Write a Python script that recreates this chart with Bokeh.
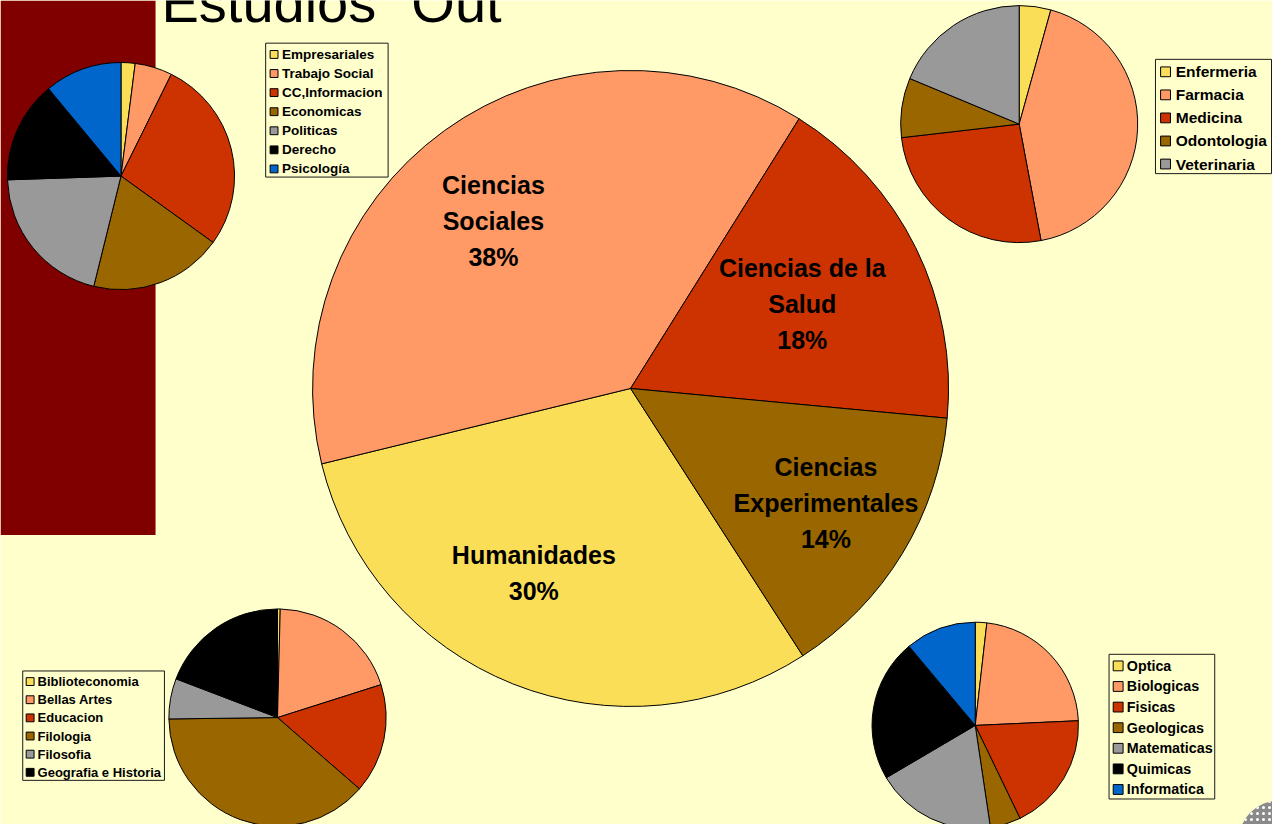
import math
from bokeh.plotting import figure
from bokeh.models import Range1d, ColumnDataSource
from bokeh.embed import file_html
from bokeh.resources import INLINE
from bokeh.core.properties import value

# ---------------- data ----------------
title_words = ["Estudios", "Out"]

main_categories = ["Humanidades", "Ciencias Sociales", "Ciencias de la Salud", "Ciencias Experimentales"]
main_labels = ["Humanidades", "Ciencias\nSociales", "Ciencias de la\nSalud", "Ciencias\nExperimentales"]
main_values = [30.3, 37.7, 17.6, 14.4]

sociales_categories = ["Empresariales", "Trabajo Social", "CC,Informacion", "Economicas",
                       "Politicas", "Derecho", "Psicología"]
sociales_values = [2.0, 5.3, 27.6, 18.9, 20.6, 14.5, 11.0]

salud_categories = ["Enfermeria", "Farmacia", "Medicina", "Odontologia", "Veterinaria"]
salud_values = [4.3, 42.7, 26.1, 8.1, 18.7]

humanidades_categories = ["Biblioteconomia", "Bellas Artes", "Educacion", "Filologia",
                          "Filosofia", "Geografia e Historia"]
humanidades_values = [0.4, 19.7, 16.3, 38.4, 6.0, 19.2]

experimentales_categories = ["Optica", "Biologicas", "Fisicas", "Geologicas",
                             "Matematicas", "Quimicas", "Informatica"]
experimentales_values = [1.8, 22.5, 18.6, 4.8, 18.9, 22.4, 11.1]

# ---------------- style ----------------
PALETTE = ["#FADE58", "#FF9966", "#CC3300", "#996600", "#999999", "#000000", "#0066CC"]
BG = "#FFFFCC"
DARK_RED = "#800000"
FONT = value("Liberation Sans")
W, H = 1288, 840  # slide coordinate system (data y = H - slide pixel y)

p = figure(width=1272, height=824, output_backend="svg", toolbar_location=None,
           x_range=Range1d(0, W), y_range=Range1d(0, H),
           background_fill_color=BG, border_fill_color=BG, outline_line_color=None,
           min_border=0)
p.axis.visible = False
p.grid.visible = False

# dark red band at the left
p.quad(left=[0], right=[157], top=[H], bottom=[H - 545], fill_color=DARK_RED, line_color=None)

# title (cut at the top edge, as on the slide)
p.text(x=[163, 416], y=[H - 2, H - 2], text=title_words, text_font=FONT,
       text_font_size="56px", text_color="black", text_baseline="middle", text_align="left")


def pie(cx, cy, r, vals, start_deg):
    total = float(sum(vals))
    a = start_deg
    starts, ends, mids = [], [], []
    for v in vals:
        b = a + v / total * 360.0
        starts.append(math.radians(90 - b))
        ends.append(math.radians(90 - a))
        mids.append((a + b) / 2.0)
        a = b
    src = ColumnDataSource(dict(start=starts, end=ends, color=PALETTE[:len(vals)]))
    p.wedge(x=cx, y=H - cy, radius=r, start_angle="start", end_angle="end",
            fill_color="color", line_color="black", line_width=1, source=src)
    return mids


def legend(names, left, top, right, bottom, y0, dy, sw_x, sw, text_x, fs):
    p.quad(left=[left], right=[right], top=[H - top], bottom=[H - bottom],
           fill_color=BG, line_color="#1a1a1a", line_width=1)
    ys = [H - (y0 + dy * i) for i in range(len(names))]
    p.rect(x=[sw_x] * len(names), y=ys, width=sw, height=sw,
           fill_color=PALETTE[:len(names)], line_color="black", line_width=1)
    p.text(x=[text_x] * len(names), y=ys, text=names, text_font=FONT,
           text_font_style="bold", text_font_size=f"{fs}px", text_color="black",
           text_baseline="middle", text_align="left")


# ---------------- big pie ----------------
CX, CY, R = 638, 395.5, 322
mids = pie(CX, CY, R, main_values, 147.2)
label_factor = [0.658, 0.683, 0.603, 0.713]
label_nudge = [5.8, -3.3, -0.1, -0.8]
lx, ly, lt = [], [], []
for m, f, n, lab, v in zip(mids, label_factor, label_nudge, main_labels, main_values):
    ang = math.radians(m + n)
    lx.append(CX + f * R * math.sin(ang))
    ly.append(H - (CY - f * R * math.cos(ang)))
    lt.append(f"{lab}\n{round(v)}%")
p.text(x=lx, y=ly, text=lt, text_font=FONT, text_font_style="bold", text_font_size="25px",
       text_color="black", text_align="center", text_baseline="middle", text_line_height=1.28)

# ---------------- small pies ----------------
pie(122, 179, 115, sociales_values, 0)
legend(sociales_categories, 268.5, 43.5, 392.5, 180, 55, 19.45, 277, 8, 285, 13.5)

pie(1031.5, 126, 120, salud_values, 0)
legend(salud_categories, 1169.5, 60, 1287, 176.5, 72.7, 23.5, 1179.7, 10, 1190, 15.5)

pie(280.5, 731, 110, humanidades_values, 0)
legend(humanidades_categories, 22.5, 683.5, 166, 795, 694.3, 18.5, 30, 8, 37.5, 13)

pie(987, 739, 104.5, experimentales_values, 0)
legend(experimentales_categories, 1122.5, 666.5, 1229.5, 814, 678.3, 21, 1131.7, 10, 1140.5, 14.3)

# logo fragment at the bottom-right corner
p.circle(x=[1294], y=[H - 856], radius=40, fill_color="#8a8a8a", line_color=None,
         hatch_pattern="dot", hatch_color="white", hatch_scale=6)

open("out.html", "w").write(file_html(p, INLINE))
